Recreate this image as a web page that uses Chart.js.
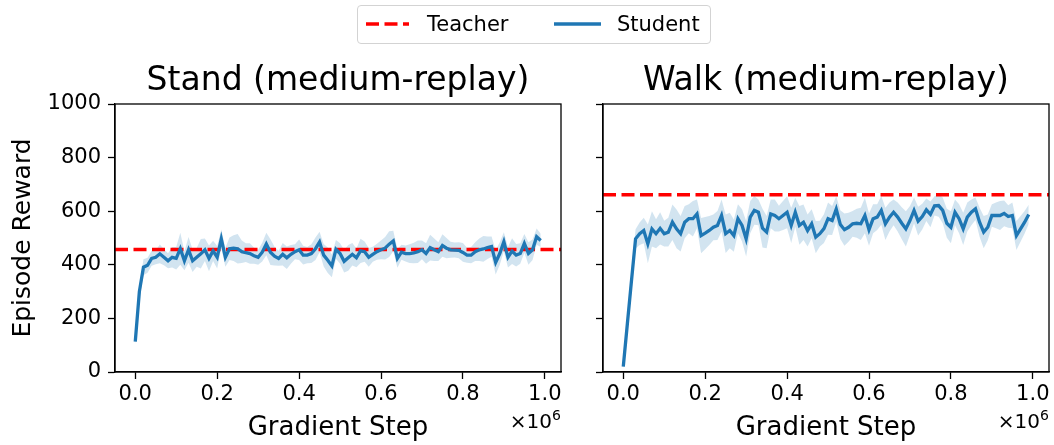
<!DOCTYPE html>
<html>
<head>
<meta charset="utf-8">
<script src="https://cdn.jsdelivr.net/npm/chart.js@4.4.1/dist/chart.umd.min.js"></script>
<style>
  body { margin: 0; background: #fff; font-family: "DejaVu Sans", sans-serif; }
  #fig { position: relative; width: 1054px; height: 445px; overflow: hidden; }
  .panel { position: absolute; top: 0; }
  .title { position: absolute; top: 59px; font-size: 33px; color: #000; text-align: center; white-space: nowrap; }
  .offset { position: absolute; top: 407px; font-size: 20px; color: #000; text-align: right; white-space: nowrap; }
  .offset sup { font-size: 14px; }
  .legend { position: absolute; left: 357px; top: 5px; width: 352px; height: 37px;
            border: 1.5px solid #d3d3d3; border-radius: 4px; font-size: 21px; color: #000; }
  .legend svg { position: absolute; top: 0; }
  .legend span { position: absolute; top: 6px; }
</style>
</head>
<body>
<div id="fig">
  <div class="panel" style="left:0"><canvas id="stand" width="580" height="445"></canvas></div>
  <div class="panel" style="left:580px"><canvas id="walk" width="474" height="445"></canvas></div>

  <div class="title" style="left:115px;width:446px">Stand (medium-replay)</div>
  <div class="title" style="left:603px;width:446px">Walk (medium-replay)</div>

  <div class="offset" style="left:461px;width:100px">×10<sup>6</sup></div>
  <div class="offset" style="left:949px;width:100px">×10<sup>6</sup></div>

  <div class="legend">
    <svg width="352" height="37">
      <line x1="8" y1="18" x2="51" y2="18" stroke="#ff0000" stroke-width="3.5" stroke-dasharray="13 5.5"/>
      <line x1="196" y1="18" x2="243" y2="18" stroke="#1f77b4" stroke-width="3.5"/>
    </svg>
    <span style="left:69px">Teacher</span>
    <span style="left:259px">Student</span>
  </div>
</div>

<script>
// gradient steps, in units of 1e6
const steps = Array.from({ length: 100 }, (_, i) => i / 100);
const xTicks = [0, 0.2, 0.4, 0.6, 0.8, 1.0];
const yTicks = [0, 200, 400, 600, 800, 1000];
const xMin = -0.0495, xMax = 1.0395;

const standTeacher = 457;
const standMean = [
  113, 300, 391, 398, 424, 428, 441, 428, 415, 428,
  424, 460, 415, 456, 415, 428, 441, 456, 424, 452,
  428, 497, 428, 460, 462, 460, 449, 445, 442, 434,
  428, 447, 478, 447, 432, 424, 439, 426, 439, 449,
  456, 436, 436, 442, 460, 485, 436, 417, 396, 458,
  442, 413, 426, 439, 426, 452, 449, 428, 439, 449,
  456, 462, 477, 489, 424, 447, 442, 442, 444, 449,
  456, 442, 464, 456, 449, 472, 462, 456, 455, 454,
  446, 436, 436, 449, 456, 459, 464, 468, 409, 442,
  486, 428, 451, 436, 442, 480, 442, 456, 505, 491
];
const standStd = [
  10, 25, 30, 28, 28, 26, 35, 30, 28, 38,
  42, 60, 35, 48, 42, 35, 55, 42, 48, 38,
  42, 35, 35, 42, 48, 55, 42, 35, 38, 30,
  28, 35, 42, 48, 35, 28, 42, 42, 35, 28,
  38, 35, 30, 35, 42, 38, 42, 48, 42, 35,
  38, 42, 48, 42, 35, 45, 38, 35, 28, 30,
  35, 42, 48, 38, 35, 28, 30, 35, 38, 42,
  35, 38, 48, 42, 35, 42, 38, 30, 28, 30,
  35, 28, 30, 35, 42, 48, 42, 38, 45, 42,
  35, 38, 48, 42, 38, 35, 42, 38, 30, 25
];

const walkTeacher = 661;
const walkMean = [
  20, 180, 340, 497, 516, 528, 478, 534, 516, 536,
  516, 522, 559, 534, 516, 559, 572, 572, 590, 509,
  518, 528, 540, 547, 584, 516, 528, 509, 572, 547,
  497, 578, 603, 596, 537, 522, 590, 584, 572, 584,
  596, 547, 596, 547, 559, 528, 553, 503, 516, 535,
  572, 565, 608, 550, 531, 540, 553, 555, 553, 584,
  531, 572, 578, 603, 553, 578, 596, 578, 555, 534,
  565, 603, 563, 580, 605, 588, 620, 621, 603, 555,
  540, 596, 572, 534, 578, 596, 609, 559, 522, 540,
  584, 584, 584, 592, 580, 584, 509, 534, 559, 588
];
const walkStd = [
  10, 30, 42, 36, 42, 48, 72, 66, 54, 60,
  48, 54, 66, 72, 66, 60, 54, 66, 54, 66,
  60, 54, 48, 54, 60, 72, 66, 60, 54, 60,
  66, 60, 54, 48, 72, 60, 54, 60, 48, 54,
  60, 66, 54, 72, 66, 60, 54, 60, 48, 54,
  60, 54, 48, 54, 60, 54, 48, 54, 60, 66,
  60, 54, 48, 54, 60, 54, 48, 54, 60, 66,
  54, 48, 54, 48, 42, 48, 36, 42, 48, 54,
  60, 48, 54, 60, 54, 48, 42, 54, 60, 48,
  42, 48, 54, 48, 42, 48, 54, 48, 42, 36
];

const BLUE = '#1f77b4';
const FONT = 'DejaVu Sans';

// top and right spines
const frame = {
  id: 'frame',
  afterDraw(chart) {
    const { ctx, chartArea: a } = chart;
    ctx.save();
    ctx.strokeStyle = '#000';
    ctx.lineWidth = 1.3;
    ctx.strokeRect(a.left, a.top, a.right - a.left, a.bottom - a.top);
    ctx.restore();
  }
};

function makePanel(id, mean, std, teacher, opts) {
  const pts = (arr) => steps.map((s, i) => ({ x: s, y: arr[i] }));
  const lower = steps.map((s, i) => ({ x: s, y: mean[i] - std[i] }));
  const upper = steps.map((s, i) => ({ x: s, y: mean[i] + std[i] }));

  return new Chart(document.getElementById(id), {
    type: 'line',
    data: {
      datasets: [
        { label: 'Student', data: pts(mean), borderColor: BLUE, borderWidth: 3.3,
          pointRadius: 0, tension: 0, fill: false },
        { label: 'Teacher', data: [{ x: xMin, y: teacher }, { x: xMax, y: teacher }],
          borderColor: '#ff0000', borderWidth: 3.5, borderDash: [13, 5.5],
          pointRadius: 0, fill: false },
        { data: lower, borderWidth: 0, pointRadius: 0, fill: false },
        { data: upper, borderWidth: 0, pointRadius: 0, fill: '-1',
          backgroundColor: 'rgba(31,119,180,0.2)' }
      ]
    },
    options: {
      responsive: false,
      animation: false,
      layout: { padding: opts.padding },
      plugins: { legend: { display: false }, tooltip: { enabled: false } },
      scales: {
        x: {
          type: 'linear', min: xMin, max: xMax,
          afterBuildTicks: (s) => { s.ticks = xTicks.map(v => ({ value: v })); },
          afterFit: (s) => { s.height = 73; },
          grid: { drawOnChartArea: false, drawTicks: true, tickLength: 7, tickWidth: 1.3, color: '#000' },
          border: { display: true, color: '#000', width: 1.3 },
          ticks: { color: '#000', font: { family: FONT, size: 21 }, padding: 3,
                   maxRotation: 0, callback: (v) => v.toFixed(1) },
          title: { display: true, text: 'Gradient Step', color: '#000',
                   font: { family: FONT, size: 26 }, padding: { top: 0, bottom: 1 } }
        },
        y: {
          type: 'linear', min: 0, max: 1000,
          afterBuildTicks: (s) => { s.ticks = yTicks.map(v => ({ value: v })); },
          afterFit: (s) => { s.width = opts.yWidth; },
          grid: { drawOnChartArea: false, drawTicks: true, tickLength: 7, tickWidth: 1.3, color: '#000' },
          border: { display: true, color: '#000', width: 1.3 },
          ticks: { display: opts.yLabels, color: '#000', font: { family: FONT, size: 21 }, padding: 7,
                   callback: (v) => String(v) },
          title: { display: opts.yLabels, text: 'Episode Reward', color: '#000',
                   font: { family: FONT, size: 25 }, padding: { top: 8, bottom: 0 } }
        }
      }
    },
    plugins: [frame]
  });
}

makePanel('stand', standMean, standStd, standTeacher,
  { padding: { top: 104, right: 19, left: 0, bottom: 0 }, yWidth: 115, yLabels: true });
makePanel('walk', walkMean, walkStd, walkTeacher,
  { padding: { top: 104, right: 5, left: 0, bottom: 0 }, yWidth: 23, yLabels: false });
</script>
</body>
</html>
